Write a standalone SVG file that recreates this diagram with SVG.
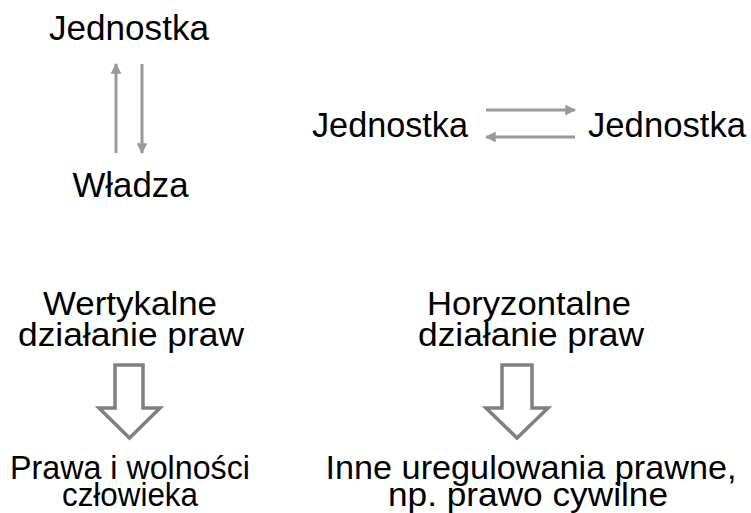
<svg xmlns="http://www.w3.org/2000/svg" width="751" height="513" viewBox="0 0 751 513">
<style>
text{font-family:"Liberation Sans",Arial,sans-serif;fill:#000;font-size:35px}
.m{font-size:34px}
.s{font-size:33px}
.ln{stroke:#9a9a9a;stroke-width:3;fill:none}
.blk{stroke:#808080;stroke-width:3.5;fill:#fff;stroke-linejoin:miter}
</style>
<defs>
<marker id="ah" viewBox="0 0 10 10" refX="9" refY="5" markerWidth="3.6" markerHeight="3.6" orient="auto" markerUnits="strokeWidth">
<path d="M0,0 L10,5 L0,10 z" fill="#9a9a9a"/>
</marker>
</defs>
<rect width="751" height="513" fill="#fff"/>
<g id="n-jednostka-top"><text x="129" y="40" text-anchor="middle" textLength="160" lengthAdjust="spacingAndGlyphs">Jednostka</text></g>
<g id="n-wladza"><text x="130.5" y="197" text-anchor="middle" textLength="116" lengthAdjust="spacingAndGlyphs">Władza</text></g>
<g id="n-jednostka-left"><text x="312" y="137" textLength="156" lengthAdjust="spacingAndGlyphs">Jednostka</text></g>
<g id="n-jednostka-right"><text x="588" y="137" textLength="158" lengthAdjust="spacingAndGlyphs">Jednostka</text></g>
<g id="n-wertykalne"><text class="m" x="130" y="315" text-anchor="middle" textLength="174" lengthAdjust="spacingAndGlyphs">Wertykalne</text><text class="m" x="131" y="346" text-anchor="middle" textLength="226" lengthAdjust="spacingAndGlyphs">działanie praw</text></g>
<g id="n-horyzontalne"><text class="m" x="529" y="315" text-anchor="middle" textLength="204" lengthAdjust="spacingAndGlyphs">Horyzontalne</text><text class="m" x="531" y="346" text-anchor="middle" textLength="226" lengthAdjust="spacingAndGlyphs">działanie praw</text></g>
<g id="n-prawa"><text class="s" x="130" y="479" text-anchor="middle" textLength="240" lengthAdjust="spacingAndGlyphs">Prawa i wolności</text><text class="s" x="130" y="506" text-anchor="middle" textLength="136" lengthAdjust="spacingAndGlyphs">człowieka</text></g>
<g id="n-inne"><text class="s" x="531" y="479" text-anchor="middle" textLength="411" lengthAdjust="spacingAndGlyphs">Inne uregulowania prawne,</text><text class="s" x="528" y="506" text-anchor="middle" textLength="280" lengthAdjust="spacingAndGlyphs">np. prawo cywilne</text></g>
<g id="connectors">
<line class="ln" x1="116" y1="153" x2="116" y2="64" marker-end="url(#ah)"/>
<line class="ln" x1="142" y1="64" x2="142" y2="153" marker-end="url(#ah)"/>
<line class="ln" x1="486" y1="110" x2="575" y2="110" marker-end="url(#ah)"/>
<line class="ln" x1="575" y1="137" x2="486" y2="137" marker-end="url(#ah)"/>
<path class="blk" d="M115,365 L143,365 L143,408 L160,408 L129.5,438 L99,408 L115,408 Z"/>
<path class="blk" d="M502,365 L532,365 L532,408 L548,408 L517,438 L486,408 L502,408 Z"/>
</g>
</svg>
